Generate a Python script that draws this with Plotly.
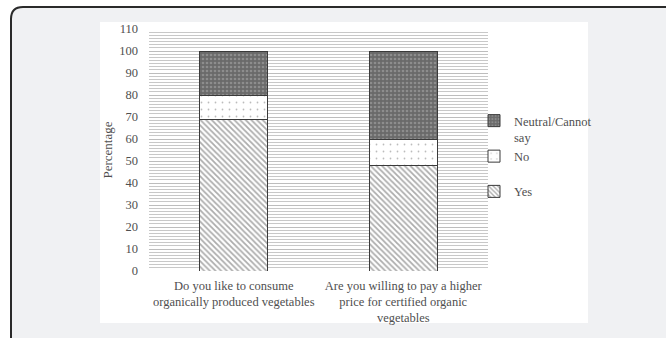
import plotly.graph_objects as go

# Survey responses (percent of respondents)
questions = [
    "Do you like to consume<br>organically produced vegetables",
    "Are you willing to pay a higher<br>price for certified organic<br>vegetables",
]
yes_pct = [69, 48]
no_pct = [11, 12]
neutral_pct = [20, 40]

y_ticks = list(range(0, 111, 10))

W, H = 666, 338
ML, MR, MT, MB = 149, 178, 29, 67
PW, PH = W - ML - MR, H - MT - MB


def px(x):
    return (x - ML) / PW


def py(y):
    return (H - MB - y) / PH


FONT = "Liberation Serif"
TXT = "#4f4f4f"
OUT = "#3a3a3a"

fig = go.Figure()

fig.add_trace(go.Bar(
    x=questions, y=yes_pct, name="Yes", width=0.4, legendgroup="g2",
    legendrank=3,
    marker=dict(color="white", line=dict(color=OUT, width=1),
                pattern=dict(shape="\\", size=4, solidity=0.45,
                             fgcolor="#5a5a5a", bgcolor="white")),
))
fig.add_trace(go.Bar(
    x=questions, y=no_pct, name="No", width=0.4, legendgroup="g1",
    legendrank=2,
    marker=dict(color="white", line=dict(color=OUT, width=1),
                pattern=dict(shape=".", size=7, solidity=0.05,
                             fgcolor="#7a7a7a", bgcolor="white")),
))
fig.add_trace(go.Bar(
    x=questions, y=neutral_pct, name="Neutral/Cannot<br>say", width=0.4,
    legendgroup="g1", legendrank=1,
    marker=dict(color="#6e6e6e", line=dict(color=OUT, width=1),
                pattern=dict(shape=".", size=4, solidity=0.35,
                             fgcolor="#b0b0b0", bgcolor="#6a6a6a")),
))

# page background with a rounded card border, and the white chart panel
r = 12
x0, y0 = px(11), py(7)
x_far, y_far = px(700), py(360)
xr, yr = px(11 + r), py(7 + r)
fig.add_shape(
    type="path", xref="paper", yref="paper", layer="below",
    path=(f"M {x0},{y_far} L {x0},{yr} Q {x0},{y0} {xr},{y0} "
          f"L {x_far},{y0} L {x_far},{y_far} Z"),
    fillcolor="#f0f1f3", line=dict(color="#2a2a2a", width=2),
)
fig.add_shape(
    type="rect", xref="paper", yref="paper", layer="below",
    x0=px(100), x1=px(588), y0=py(323), y1=py(22),
    fillcolor="white", line=dict(width=0),
)

fig.update_layout(
    width=W, height=H,
    margin=dict(l=ML, r=MR, t=MT, b=MB, autoexpand=False),
    paper_bgcolor="white",
    plot_bgcolor="rgba(0,0,0,0)",
    barmode="stack",
    font=dict(family=FONT, size=12.5, color=TXT),
    showlegend=True,
    legend=dict(
        x=px(474), y=py(106), xanchor="left", yanchor="top",
        traceorder="grouped", tracegroupgap=16,
        valign="top", itemwidth=30,
        font=dict(family=FONT, size=12.5, color=TXT),
        bgcolor="rgba(0,0,0,0)",
    ),
    xaxis=dict(
        showgrid=False, showline=False, ticks="",
        tickangle=0, ticklabelstandoff=5,
        tickfont=dict(family=FONT, size=12.5, color=TXT),
    ),
    yaxis=dict(
        range=[0, 110], tickvals=y_ticks,
        showgrid=True, gridcolor="#bdbdbd", gridwidth=1,
        minor=dict(dtick=10 / 7, showgrid=True, gridcolor="#c8c8c8",
                   gridwidth=1),
        zeroline=False, showline=False, ticks="",
        ticklabelstandoff=10,
        tickfont=dict(family=FONT, size=12.5, color=TXT),
        title=dict(text="Percentage", standoff=3,
                   font=dict(family=FONT, size=13, color=TXT)),
    ),
)

fig.write_html("out.html")
